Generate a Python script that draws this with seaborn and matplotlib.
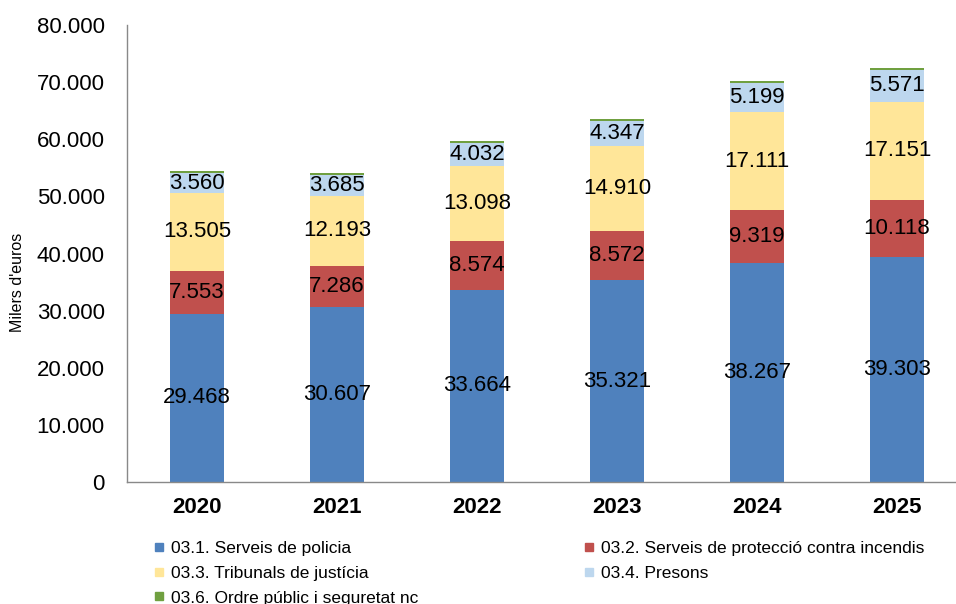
import matplotlib
matplotlib.use("Agg")
import matplotlib.pyplot as plt
import seaborn as sns
import numpy as np
from matplotlib.lines import Line2D
from matplotlib import font_manager

years = ["2020", "2021", "2022", "2023", "2024", "2025"]
policia = [29468, 30607, 33664, 35321, 38267, 39303]
incendis = [7553, 7286, 8574, 8572, 9319, 10118]
tribunals = [13505, 12193, 13098, 14910, 17111, 17151]
presons = [3560, 3685, 4032, 4347, 5199, 5571]
ordre = [350, 300, 350, 400, 300, 300]

series_names = ["03.1. Serveis de policia",
                "03.2. Serveis de protecció contra incendis",
                "03.3. Tribunals de justícia",
                "03.4. Presons",
                "03.6. Ordre públic i seguretat nc"]
colors = ["#4F81BD", "#C0504D", "#FFE699", "#BDD7EE", "#70A040"]
y_ticks = [0, 10000, 20000, 30000, 40000, 50000, 60000, 70000, 80000]
y_label = "Milers d'euros"

sns.set_theme(style="white")
plt.rcParams['font.family'] = ['Liberation Sans', 'DejaVu Sans']
plt.rcParams['text.color'] = 'black'
plt.rcParams['xtick.labelcolor'] = 'black'
plt.rcParams['ytick.labelcolor'] = 'black'

names = [f.name for f in font_manager.fontManager.ttflist]
narrow = 'Liberation Sans Narrow' if 'Liberation Sans Narrow' in names else 'Liberation Sans'

fig = plt.figure(figsize=(9.56, 6.04), dpi=100)
ax = fig.add_axes([127/956, (604-482)/604, 840/956, (482-25)/604])

data = [policia, incendis, tribunals, presons, ordre]
cums = np.cumsum(np.array(data), axis=0)

# draw from top (largest cumulative) down so the stack shows
for i in range(len(data) - 1, -1, -1):
    sns.barplot(x=years, y=cums[i], color=colors[i], saturation=1,
                width=0.385, ax=ax, order=years, linewidth=0)

# labels centered in segments (first four series)
for i in range(4):
    for j, y in enumerate(years):
        v = data[i][j]
        center = cums[i][j] - v / 2
        ax.text(j, center, f"{v:,}".replace(",", "."), ha="center", va="center",
                fontsize=16, color="black")

ax.set_xlim(-0.5, 5.5)
ax.set_ylim(0, 80000)
ax.set_yticks(y_ticks)
ax.set_yticklabels([f"{t:,}".replace(",", ".") for t in y_ticks], fontsize=16, color="black")
ax.set_xticks(range(len(years)))
ax.set_xticklabels(years, fontsize=16, fontweight="bold", color="black")
ax.tick_params(axis="x", which="major", length=0, pad=11)
ax.set_xticks(np.arange(-0.5, 6.0, 1.0), minor=True)
ax.tick_params(axis="x", which="minor", length=7, direction="out", color="#898989", width=1)
ax.tick_params(axis="y", which="major", length=7, direction="out", color="#898989", width=1, pad=9)
ax.set_xlabel("")
ax.set_ylabel("")

for s in ["top", "right"]:
    ax.spines[s].set_visible(False)
for s in ["left", "bottom"]:
    ax.spines[s].set_color("#898989")
    ax.spines[s].set_linewidth(1)

fig.text(18/956, 1 - 282/604, y_label, rotation=90, ha="center", va="center",
         fontsize=11.5, color="black")

def handle(c):
    return Line2D([0], [0], marker="s", linestyle="none", markersize=6,
                  markerfacecolor=c, markeredgecolor=c)

leg_kw = dict(frameon=False, prop={"family": narrow, "size": 12.5},
              handletextpad=0.2, labelspacing=0.55, borderaxespad=0,
              handlelength=1.0, borderpad=0, labelcolor="black")
col1 = [0, 2, 4]
col2 = [1, 3]
l1 = fig.legend([handle(colors[i]) for i in col1], [series_names[i] for i in col1],
                loc="upper left", bbox_to_anchor=(150/956, 1 - 541/604), **leg_kw)
l2 = fig.legend([handle(colors[i]) for i in col2], [series_names[i] for i in col2],
                loc="upper left", bbox_to_anchor=(580/956, 1 - 541/604), **leg_kw)

fig.savefig("out.png", dpi=100)
